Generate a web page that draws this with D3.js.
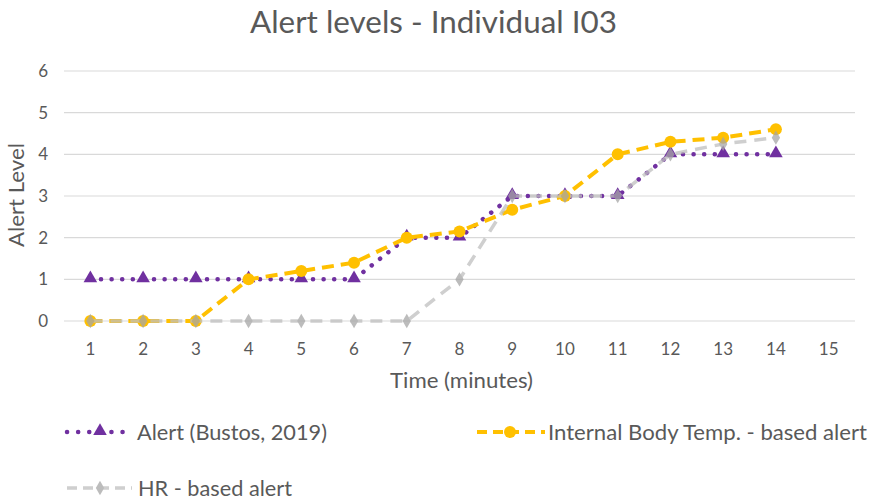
<!DOCTYPE html>
<html><head><meta charset="utf-8">
<script src="https://cdn.jsdelivr.net/npm/d3@7"></script>
<style>body{margin:0;background:#fff}svg{display:block}text{font-family:Lato,"Open Sans",sans-serif;fill:#595959}</style>
</head><body><svg id="c" width="875" height="501"></svg>
<script>
const minutes = [1,2,3,4,5,6,7,8,9,10,11,12,13,14,15];
const alertBustos = [1,1,1,1,1,1,2,2,3,3,3,4,4,4];
const bodyTempAlert = [0,0,0,1,1.2,1.4,2,2.15,2.67,3,4,4.3,4.4,4.6];
const hrAlert = [0,0,0,0,0,0,0,1,3,3,3,4,4.25,4.4];
const yTicks = [0,1,2,3,4,5,6];

const svg = d3.select("#c");
const plot = {left: 64, right: 855, top: 71, bottom: 321};

const x = d3.scaleBand().domain(minutes).range([plot.left, plot.right]);
const y = d3.scaleLinear().domain([0, 6]).range([plot.bottom, plot.top]);
const cx = m => x(m) + x.bandwidth() / 2;

// title
svg.append("text").attr("x", 250).attr("y", 33)
  .attr("textLength", 367).attr("lengthAdjust", "spacingAndGlyphs")
  .style("font-size", "31px").text("Alert levels - Individual I03");

// horizontal gridlines
svg.append("g").selectAll("line").data(yTicks).join("line")
  .attr("x1", plot.left).attr("x2", plot.right)
  .attr("y1", d => y(d)).attr("y2", d => y(d))
  .attr("stroke", "#d9d9d9").attr("stroke-width", 1.2);

// y axis
const yAxis = svg.append("g").attr("transform", `translate(${plot.left - 10},0)`)
  .call(d3.axisLeft(y).tickValues(yTicks).tickFormat(d3.format("d")).tickSize(0).tickPadding(6));
yAxis.select(".domain").remove();
yAxis.selectAll("text").style("font-size", "17px").style("fill", "#595959");

// x axis
const xAxis = svg.append("g").attr("transform", `translate(0,${plot.bottom + 16})`)
  .call(d3.axisBottom(x).tickSize(0).tickPadding(6));
xAxis.select(".domain").remove();
xAxis.selectAll("text").style("font-size", "17px").style("fill", "#595959");

// axis titles
svg.append("text").attr("x", 390).attr("y", 388)
  .attr("textLength", 143).attr("lengthAdjust", "spacingAndGlyphs")
  .style("font-size", "21px").text("Time (minutes)");
svg.append("text").attr("transform", "translate(24,247) rotate(-90)")
  .attr("textLength", 104).attr("lengthAdjust", "spacingAndGlyphs")
  .style("font-size", "21px").text("Alert Level");

const line = d3.line().x((d, i) => cx(minutes[i])).y(d => y(d));

const tri = d3.symbol().type(d3.symbolTriangle).size(80);
const dia = d3.symbol().type(d3.symbolDiamond).size(60);

// Alert (Bustos, 2019): purple dotted with triangles
const purple = "#7030a0";
svg.append("path").datum(alertBustos).attr("d", line).attr("fill", "none")
  .attr("stroke", purple).attr("stroke-width", 4.5).attr("stroke-linecap", "round")
  .attr("stroke-dasharray", "0.1 10.5");
svg.append("g").selectAll("path").data(alertBustos).join("path")
  .attr("d", tri).attr("fill", purple)
  .attr("transform", (d, i) => `translate(${cx(minutes[i])},${y(d) - 1})`);

// Internal body temperature alert: yellow dashed with circles
const yellow = "#ffc000";
svg.append("path").datum(bodyTempAlert).attr("d", line).attr("fill", "none")
  .attr("stroke", yellow).attr("stroke-width", 4).attr("stroke-dasharray", "12 7");
svg.append("g").selectAll("circle").data(bodyTempAlert).join("circle")
  .attr("cx", (d, i) => cx(minutes[i])).attr("cy", d => y(d)).attr("r", 6)
  .attr("fill", yellow);

// HR-based alert: light grey dashed with diamonds, drawn translucent on top
const grey = "#a6a6a6";
const hrG = svg.append("g").attr("opacity", 0.75);
hrG.append("path").datum(hrAlert).attr("d", line).attr("fill", "none")
  .attr("stroke", "#bfbfbf").attr("stroke-width", 3.5).attr("stroke-dasharray", "12 8");
hrG.selectAll("path.m").data(hrAlert).join("path").attr("class", "m")
  .attr("d", dia).attr("fill", grey)
  .attr("transform", (d, i) => `translate(${cx(minutes[i])},${y(d)})`);

// legend
const legend = [
  {label: "Alert (Bustos, 2019)", x: 66, y: 432, kind: "alert", tx: 137, tw: 190},
  {label: "Internal Body Temp. - based alert", x: 477, y: 432, kind: "temp", tx: 548, tw: 319},
  {label: "HR - based alert", x: 67, y: 488, kind: "hr", tx: 138, tw: 154}
];
legend.forEach(l => {
  const g = svg.append("g").attr("transform", `translate(${l.x},${l.y})`);
  if (l.kind === "alert") {
    g.append("line").attr("x1", 1).attr("x2", 67).attr("stroke", purple).attr("stroke-width", 4.5)
      .attr("stroke-linecap", "round").attr("stroke-dasharray", "0.1 11");
    g.append("path").attr("d", tri).attr("fill", purple).attr("transform", "translate(34,-1)");
  } else if (l.kind === "temp") {
    g.append("line").attr("x1", 0).attr("x2", 68).attr("stroke", yellow).attr("stroke-width", 4)
      .attr("stroke-dasharray", "10 6");
    g.append("circle").attr("cx", 33).attr("r", 6).attr("fill", yellow);
  } else {
    const hg = g.append("g").attr("opacity", 0.75);
    hg.append("line").attr("x1", 0).attr("x2", 65).attr("stroke", "#bfbfbf").attr("stroke-width", 3.5)
      .attr("stroke-dasharray", "10 6");
    hg.append("path").attr("d", dia).attr("fill", grey).attr("transform", "translate(33,0)");
  }
  svg.append("text").attr("x", l.tx).attr("y", l.y + 8)
    .attr("textLength", l.tw).attr("lengthAdjust", "spacingAndGlyphs")
    .style("font-size", "21px").text(l.label);
});
</script></body></html>
